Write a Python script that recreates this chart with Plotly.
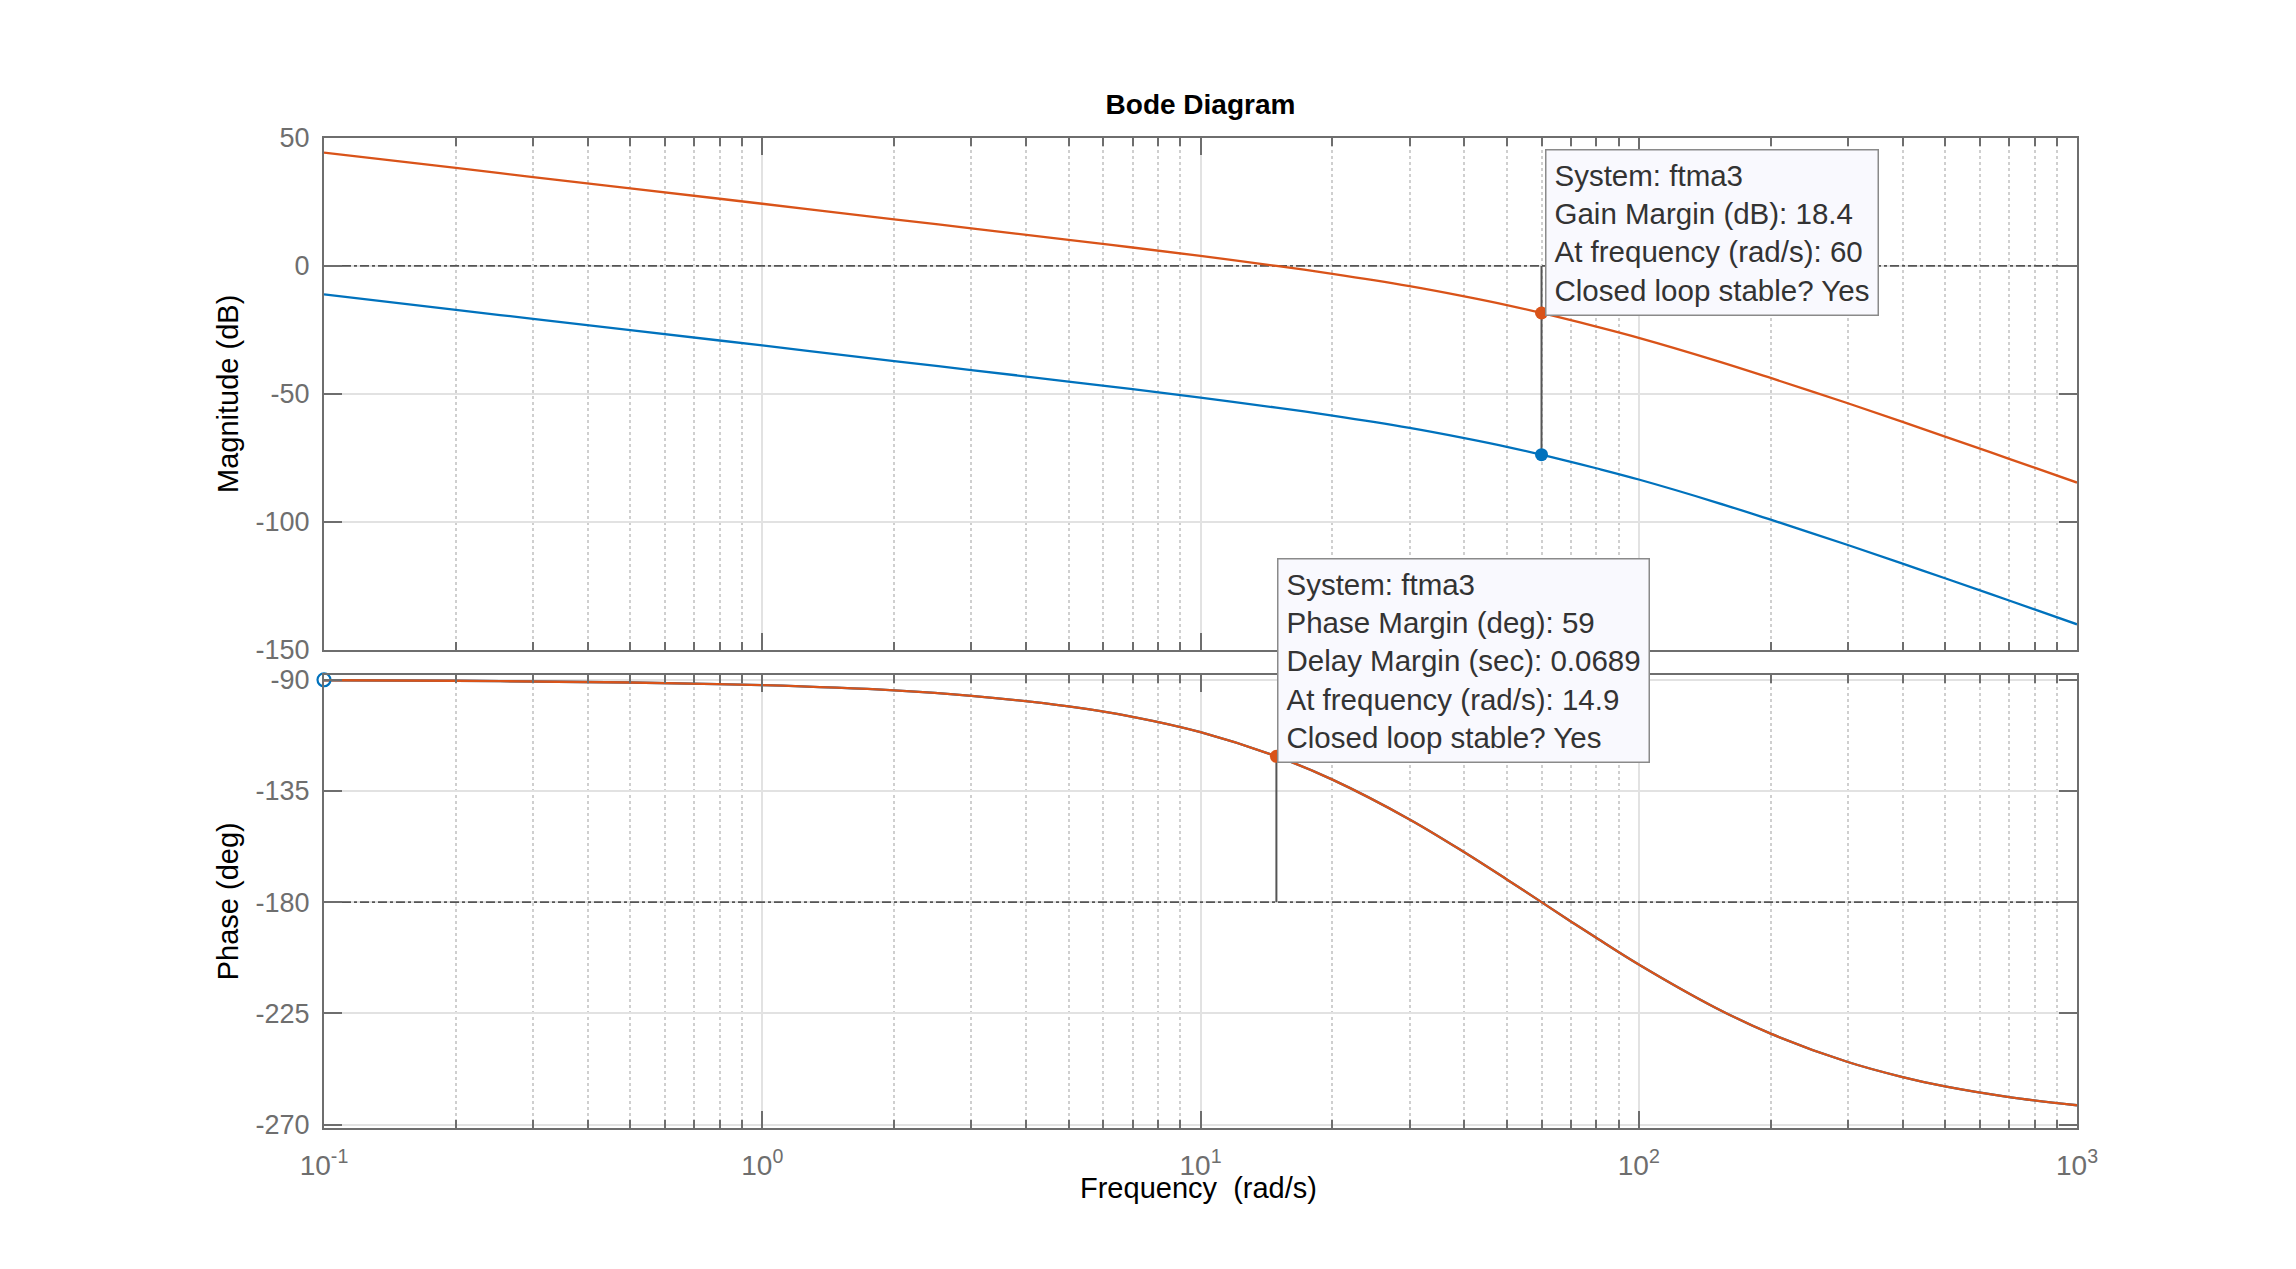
import math
import plotly.graph_objects as go

# ---------------- data ----------------
freq = [0.1, 0.2, 0.3, 0.5, 1, 2, 3, 5, 7, 10, 14.9, 20, 30, 40, 50, 60, 70, 80,
        100, 150, 200, 300, 400, 500, 700, 1000]
mag_ftma3 = [44.3, 38.3, 34.7, 30.3, 24.3, 18.2, 14.7, 10.2, 7.2, 3.9, 0.0, -3.1,
             -7.9, -11.9, -15.3, -18.4, -21.2, -23.7, -28.1, -37.0, -43.8, -53.7,
             -61.0, -66.7, -75.4, -84.7]
mag_plant = [-11.1, -17.2, -20.7, -25.1, -31.1, -37.2, -40.7, -45.2, -48.2, -51.5,
             -55.4, -58.5, -63.3, -67.3, -70.7, -73.8, -76.6, -79.1, -83.5, -92.4,
             -99.2, -109.1, -116.4, -122.1, -130.8, -140.1]
phase_deg = [-90.2, -90.4, -90.7, -91.1, -92.2, -94.3, -96.5, -100.8, -105.0, -111.2,
             -121.0, -130.4, -146.5, -159.8, -170.8, -180.0, -187.8, -194.4, -205.2,
             -222.8, -233.2, -244.7, -250.8, -254.6, -258.9, -262.2]

gm_freq = 60
gm_db = 18.4
plant_mag_at_gm = -73.8
pm_freq = 14.9
pm_deg = 59
delay_margin = 0.0689
plant_pm_marker = (0.1, -90)

xtick_vals = [0.1, 1, 10, 100, 1000]
xtick_text = ["10<sup>-1</sup>", "10<sup>0</sup>", "10<sup>1</sup>", "10<sup>2</sup>", "10<sup>3</sup>"]
mag_ticks = [-150, -100, -50, 0, 50]
mag_tick_text = ["-150", "-100", "-50", "0", "50"]
phase_ticks = [-270, -225, -180, -135, -90]
phase_tick_text = ["-270", "-225", "-180", "-135", "-90"]

# ---------------- styles ----------------
BLUE = "#0072BD"
ORANGE = "#D95319"
AX = "#6e6e6e"
REF = "#555555"
FONT = "Liberation Sans, Arial, Helvetica, sans-serif"

fig = go.Figure()

# magnitude panel (x / y)
fig.add_trace(go.Scatter(x=[freq[0], freq[-1]], y=[0, 0], mode="lines",
                         line=dict(color=REF, width=1.6, dash="dashdot"),
                         xaxis="x", yaxis="y", hoverinfo="skip"))
fig.add_trace(go.Scatter(x=freq, y=mag_plant, mode="lines",
                         line=dict(color=BLUE, width=2.3, shape="spline"),
                         xaxis="x", yaxis="y"))
fig.add_trace(go.Scatter(x=freq, y=mag_ftma3, mode="lines",
                         line=dict(color=ORANGE, width=2.3, shape="spline"),
                         xaxis="x", yaxis="y"))
fig.add_trace(go.Scatter(x=[gm_freq, gm_freq], y=[0, plant_mag_at_gm], mode="lines",
                         line=dict(color=REF, width=2),
                         xaxis="x", yaxis="y"))
fig.add_trace(go.Scatter(x=[gm_freq], y=[plant_mag_at_gm], mode="markers",
                         marker=dict(color=BLUE, size=13),
                         xaxis="x", yaxis="y"))
fig.add_trace(go.Scatter(x=[gm_freq], y=[-gm_db], mode="markers",
                         marker=dict(color=ORANGE, size=13),
                         xaxis="x", yaxis="y"))

# phase panel (x2 / y2)
fig.add_trace(go.Scatter(x=[freq[0], freq[-1]], y=[-180, -180], mode="lines",
                         line=dict(color=REF, width=1.6, dash="dashdot"),
                         xaxis="x2", yaxis="y2"))
fig.add_trace(go.Scatter(x=freq, y=phase_deg, mode="lines",
                         line=dict(color=BLUE, width=2.3, shape="spline"),
                         xaxis="x2", yaxis="y2"))
fig.add_trace(go.Scatter(x=freq, y=phase_deg, mode="lines",
                         line=dict(color=ORANGE, width=2.3, shape="spline"),
                         xaxis="x2", yaxis="y2"))
fig.add_trace(go.Scatter(x=[pm_freq, pm_freq], y=[-180, -180 + pm_deg], mode="lines",
                         line=dict(color=REF, width=2),
                         xaxis="x2", yaxis="y2"))
fig.add_trace(go.Scatter(x=[pm_freq], y=[-180 + pm_deg], mode="markers",
                         marker=dict(color=ORANGE, size=13),
                         xaxis="x2", yaxis="y2"))
fig.add_trace(go.Scatter(x=[plant_pm_marker[0]], y=[plant_pm_marker[1]], mode="markers",
                         marker=dict(color="rgba(0,0,0,0)", size=13,
                                     line=dict(color=BLUE, width=2.2)),
                         cliponaxis=False, xaxis="x2", yaxis="y2"))

common_x = dict(
    type="log", range=[-1, 3], tickvals=xtick_vals, ticktext=xtick_text,
    showline=True, linecolor=AX, linewidth=2, mirror="ticks",
    ticks="inside", ticklen=17, tickwidth=2, tickcolor=AX,
    showgrid=True, gridcolor="#e2e2e2", gridwidth=2,
    minor=dict(dtick="D1", ticks="inside", ticklen=8, tickwidth=2, tickcolor=AX,
               showgrid=True, gridcolor="#cfcfcf", gridwidth=1.5, griddash="dot"),
    zeroline=False,
    tickfont=dict(family=FONT, size=28, color=AX),
)
common_y = dict(
    showline=True, linecolor=AX, linewidth=2, mirror="ticks",
    ticks="inside", ticklen=18, tickwidth=2, tickcolor=AX,
    showgrid=True, gridcolor="#e2e2e2", gridwidth=2, zeroline=False,
    tickfont=dict(family=FONT, size=27, color=AX), ticklabelstandoff=7,
)

# the page body adds an 8 px margin; figure is sized so the plot area lands where the reference has it
W, H = 2288, 1261
fig.update_layout(
    width=W, height=H,
    margin=dict(l=316, r=219, t=130, b=141, autoexpand=False),
    paper_bgcolor="white", plot_bgcolor="white",
    showlegend=False,
    title=dict(text="<b>Bode Diagram</b>", x=0.5, xref="paper", xanchor="center",
               y=1 - 96.5 / H, yref="container", yanchor="middle",
               font=dict(family=FONT, size=28, color="black")),
    xaxis=dict(common_x, anchor="y", showticklabels=False, matches="x2"),
    yaxis=dict(common_y, domain=[0.4832, 1], range=[-150, 50],
               tickvals=mag_ticks, ticktext=mag_tick_text,
               title=dict(text="Magnitude (dB)", standoff=8,
                          font=dict(family=FONT, size=29, color="black"))),
    xaxis2=dict(common_x, anchor="y2", ticklabelstandoff=11),
    yaxis2=dict(common_y, domain=[0, 0.458], range=[-271.4, -87.9],
                tickvals=phase_ticks, ticktext=phase_tick_text,
                title=dict(text="Phase (deg)", standoff=8,
                           font=dict(family=FONT, size=29, color="black"))),
)

# x-axis label, placed just under the tick labels as in the reference
fig.add_annotation(text="Frequency\u00a0 (rad/s)", xref="paper", yref="paper",
                   x=0.4986, y=-0.0611, xanchor="center", yanchor="middle",
                   showarrow=False, font=dict(family=FONT, size=29, color="black"))

tip_style = dict(showarrow=False, align="left", xanchor="left", yanchor="top",
                 bgcolor="#f9f9fe", bordercolor="#8a8a8a", borderwidth=1.5, borderpad=8,
                 font=dict(family=FONT, size=29.5, color="#333333"))

fig.add_annotation(
    text="System: ftma3<br>Gain Margin (dB): %.1f<br>At frequency (rad/s): %g<br>Closed loop stable? Yes"
         % (gm_db, gm_freq),
    xref="x", x=math.log10(gm_freq), yref="paper", y=0.9886, xshift=3, **tip_style)
fig.add_annotation(
    text="System: ftma3<br>Phase Margin (deg): %g<br>Delay Margin (sec): %g<br>At frequency (rad/s): %g<br>Closed loop stable? Yes"
         % (pm_deg, delay_margin, pm_freq),
    xref="x", x=math.log10(pm_freq), yref="paper", y=0.5755, xshift=1, **tip_style)

fig.write_html("out.html")
